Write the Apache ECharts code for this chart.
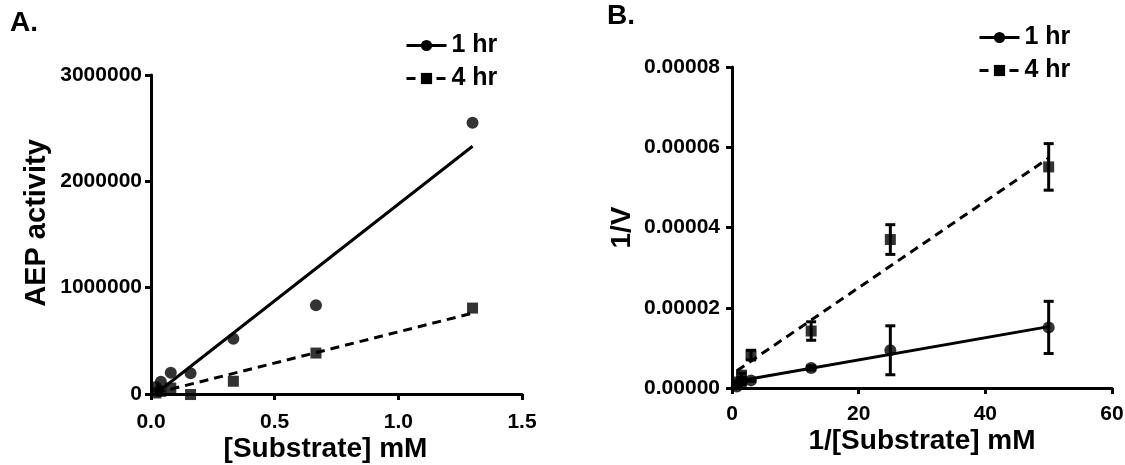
<!DOCTYPE html>
<html>
<head>
<meta charset="utf-8">
<script src="https://cdn.jsdelivr.net/npm/echarts@6/dist/echarts.min.js"></script>
<style>
  html, body { margin: 0; padding: 0; background: #fff; }
  #chart { width: 1125px; height: 465px; }
</style>
</head>
<body>
<div id="chart"></div>
<script>
// Panel A: Michaelis-Menten style plot
const substrateA = [1.3, 0.667, 0.333, 0.16, 0.08, 0.04, 0.02];
const activity1h = [2550000, 835000, 520000, 195000, 200000, 115000, 65000];
const activity4h = [808000, 385000, 120000, -5000, 56000, 25000, 10000];
// regression lines (start / end points)
const fitA1h = [[0.02, 5000], [1.3, 2330000]];
const fitA4h = [[0.02, 10000], [1.3, 760000]];

// Panel B: Lineweaver-Burk plot
const invSubstrate = [50, 25, 12.5, 3, 1.5, 0.77];
const invV1h = [1.51e-5, 0.94e-5, 0.50e-5, 0.19e-5, 0.11e-5, 0.04e-5];
const err1h = [0.65e-5, 0.61e-5, 0.05e-5, 0.02e-5, 0.02e-5, 0.01e-5];
const invV4h = [5.51e-5, 3.70e-5, 1.42e-5, 0.82e-5, 0.32e-5, 0.15e-5];
const err4h = [0.58e-5, 0.37e-5, 0.23e-5, 0.12e-5, 0.05e-5, 0.03e-5];
const fitB1h = [[0.77, 0.17e-5], [50, 1.53e-5]];
const fitB4h = [[0.77, 0.43e-5], [50, 5.73e-5]];

const seriesNames = ['1 hr', '4 hr'];

const sans = '"Liberation Sans", Arial, sans-serif';

const pairs = (xs, ys) => xs.map((x, i) => [x, ys[i]]);
const triples = (xs, ys, es) => xs.map((x, i) => [x, ys[i], es[i]]);

const axisLine = { show: true, lineStyle: { color: '#000', width: 3 } };
const axisTick = { show: true, length: 6, inside: false, lineStyle: { color: '#000', width: 3 } };
const tickLabel = (fmt, margin) => ({
  color: '#000', fontFamily: sans, fontWeight: 'bold', fontSize: 21, margin, formatter: fmt,
});
const nameStyle = { color: '#000', fontFamily: sans, fontWeight: 'bold', fontSize: 28 };

function errorBars(params, api) {
  const x = api.value(0), y = api.value(1), e = api.value(2);
  const hi = api.coord([x, y + e]);
  const lo = api.coord([x, y - e]);
  const cap = 5;
  const style = { stroke: '#000', lineWidth: 3 };
  return {
    type: 'group',
    children: [
      { type: 'line', shape: { x1: hi[0], y1: hi[1], x2: lo[0], y2: lo[1] }, style },
      { type: 'line', shape: { x1: hi[0] - cap, y1: hi[1], x2: hi[0] + cap, y2: hi[1] }, style },
      { type: 'line', shape: { x1: lo[0] - cap, y1: lo[1], x2: lo[0] + cap, y2: lo[1] }, style },
    ],
  };
}

function fitLine(name, idx, data, dashed, symbol) {
  return {
    name, type: 'line', xAxisIndex: idx, yAxisIndex: idx, data,
    symbol, showSymbol: false, color: '#000', silent: true,
    lineStyle: { color: '#000', width: 3, type: dashed ? [9, 6] : 'solid' },
  };
}

function points(idx, data, symbol, size) {
  return {
    type: 'scatter', xAxisIndex: idx, yAxisIndex: idx, data, clip: false,
    symbol, symbolSize: size, itemStyle: { color: '#000' }, z: 4,
  };
}

const legendBase = {
  data: seriesNames, orient: 'vertical', itemWidth: 40, itemHeight: 14, itemGap: 8,
  selectedMode: false, lineStyle: { width: 3 },
  textStyle: { color: '#000', fontFamily: sans, fontWeight: 'bold', fontSize: 25, lineHeight: 25 },
};

const chart = echarts.init(document.getElementById('chart'));
chart.setOption({
  backgroundColor: '#fff',
  animation: false,
  graphic: [
    { type: 'text', left: 10, top: 9, style: { text: 'A.', font: 'bold 28px ' + sans, fill: '#000' } },
    { type: 'text', left: 607, top: 2, style: { text: 'B.', font: 'bold 28px ' + sans, fill: '#000' } },
  ],
  legend: [
    Object.assign({}, legendBase, { left: 400, top: 28 }),
    Object.assign({}, legendBase, { left: 973, top: 20 }),
  ],
  grid: [
    { left: 151, top: 75, width: 371, height: 319, containLabel: false, outerBoundsMode: 'none' },
    { left: 732, top: 67, width: 380, height: 321, containLabel: false, outerBoundsMode: 'none' },
  ],
  xAxis: [
    {
      gridIndex: 0, type: 'value', min: 0, max: 1.5, interval: 0.5,
      axisLine, axisTick, splitLine: { show: false },
      axisLabel: tickLabel((v) => v.toFixed(1), 18),
      name: '[Substrate] mM', nameLocation: 'middle', nameGap: 41, nameMoveOverlap: false,
      nameTextStyle: Object.assign({}, nameStyle, { padding: [0, 22, 0, 0] }),
    },
    {
      gridIndex: 1, type: 'value', min: 0, max: 60, interval: 20,
      axisLine, axisTick, splitLine: { show: false },
      axisLabel: tickLabel((v) => String(v), 16),
      name: '1/[Substrate] mM', nameLocation: 'middle', nameGap: 39, nameMoveOverlap: false,
      nameTextStyle: nameStyle,
    },
  ],
  yAxis: [
    {
      gridIndex: 0, type: 'value', min: 0, max: 3000000, interval: 1000000,
      axisLine, axisTick, splitLine: { show: false },
      axisLabel: tickLabel((v) => String(v), 9),
      name: 'AEP activity', nameLocation: 'middle', nameGap: 100, nameMoveOverlap: false,
      nameTextStyle: Object.assign({}, nameStyle, { fontSize: 29, padding: [0, 0, 0, 23] }),
    },
    {
      gridIndex: 1, type: 'value', min: 0, max: 0.00008, interval: 0.00002,
      axisLine, axisTick, splitLine: { show: false },
      axisLabel: tickLabel((v) => v.toFixed(5), 12),
      name: '1/V', nameLocation: 'middle', nameGap: 96, nameMoveOverlap: false,
      nameTextStyle: nameStyle,
    },
  ],
  series: [
    fitLine('1 hr', 0, fitA1h, false, 'circle'),
    fitLine('4 hr', 0, fitA4h, true, 'rect'),
    points(0, pairs(substrateA, activity1h), 'circle', 12),
    points(0, pairs(substrateA, activity4h), 'rect', 11),

    fitLine('1 hr', 1, fitB1h, false, 'circle'),
    fitLine('4 hr', 1, fitB4h, true, 'rect'),
    {
      type: 'custom', xAxisIndex: 1, yAxisIndex: 1, renderItem: errorBars,
      encode: { x: 0, y: 1 }, data: triples(invSubstrate, invV1h, err1h), z: 3,
    },
    {
      type: 'custom', xAxisIndex: 1, yAxisIndex: 1, renderItem: errorBars,
      encode: { x: 0, y: 1 }, data: triples(invSubstrate, invV4h, err4h), z: 3,
    },
    points(1, pairs(invSubstrate, invV1h), 'circle', 12),
    points(1, pairs(invSubstrate, invV4h), 'rect', 11),
  ],
});
</script>
</body>
</html>
